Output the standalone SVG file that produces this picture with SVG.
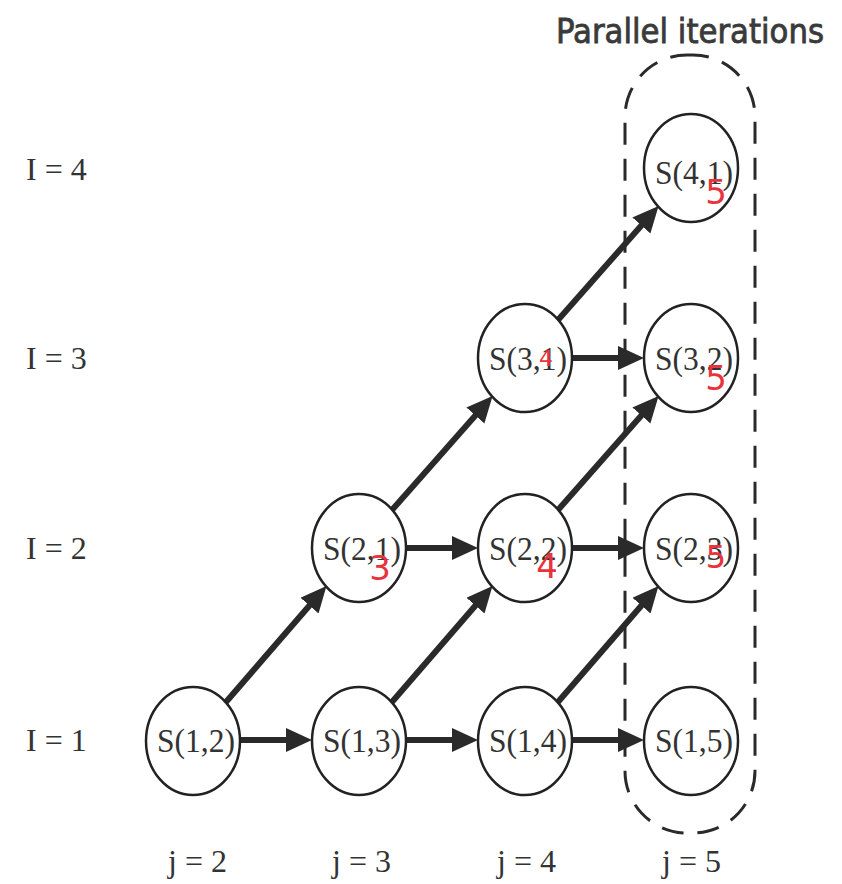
<svg xmlns="http://www.w3.org/2000/svg" width="842" height="884" viewBox="0 0 842 884">
<defs>
<style>
.node ellipse{fill:#fff;stroke:#222;stroke-width:2.5}
.lbl{font-family:"Liberation Serif","Times New Roman",serif;font-size:34px;fill:#333;text-anchor:middle}
.axis{font-family:"Liberation Serif","Times New Roman",serif;font-size:32px;fill:#333}
.fix{font-family:"DejaVu Sans","Liberation Sans",sans-serif;fill:#e8323c;text-anchor:middle}
.conn line{stroke:#2a2a2a;stroke-width:6;marker-end:url(#ah)}
</style>
<marker id="ah" markerUnits="userSpaceOnUse" markerWidth="28" markerHeight="26" refX="10" refY="12" orient="auto">
<path d="M0,0 L26,12 L0,24 z" fill="#2a2a2a"/>
</marker>
</defs>
<rect width="842" height="884" fill="#fff"/>
<text x="690" y="43" text-anchor="middle" font-family="DejaVu Sans Condensed,DejaVu Sans,sans-serif" font-size="34" fill="#3a3a3a" stroke="#3a3a3a" stroke-width="0.8" textLength="268" lengthAdjust="spacingAndGlyphs">Parallel iterations</text>
<rect id="parallel-group" x="625" y="55" width="130" height="778" rx="62" ry="62" fill="none" stroke="#2a2a2a" stroke-width="3" stroke-dasharray="22 14"/>
<g id="row-labels" class="axis">
<text x="26" y="180">I = 4</text>
<text x="26" y="369">I = 3</text>
<text x="26" y="559">I = 2</text>
<text x="26" y="751">I = 1</text>
</g>
<g id="col-labels" class="axis">
<text x="168" y="872">j = 2</text>
<text x="332" y="872">j = 3</text>
<text x="497" y="872">j = 4</text>
<text x="662" y="872">j = 5</text>
</g>
<g id="connectors" class="conn">
<line x1="240" y1="740" x2="296" y2="740"/>
<line x1="406" y1="740" x2="462" y2="740"/>
<line x1="572" y1="740" x2="628" y2="740"/>
<line x1="406" y1="548" x2="462" y2="548"/>
<line x1="572" y1="548" x2="628" y2="548"/>
<line x1="572" y1="358" x2="628" y2="358"/>
<line x1="226" y1="702" x2="316" y2="598"/>
<line x1="392" y1="702" x2="482" y2="598"/>
<line x1="558" y1="702" x2="648" y2="598"/>
<line x1="392" y1="510" x2="482" y2="408"/>
<line x1="558" y1="510" x2="648" y2="408"/>
<line x1="558" y1="320" x2="648" y2="218"/>
</g>
<g id="S12" class="node"><ellipse cx="193" cy="741" rx="47" ry="54"/><text class="lbl" x="196" y="752" textLength="78" lengthAdjust="spacingAndGlyphs">S(1,2)</text></g>
<g id="S13" class="node"><ellipse cx="359" cy="741" rx="47" ry="54"/><text class="lbl" x="362" y="752" textLength="78" lengthAdjust="spacingAndGlyphs">S(1,3)</text></g>
<g id="S14" class="node"><ellipse cx="525" cy="741" rx="47" ry="54"/><text class="lbl" x="528" y="752" textLength="78" lengthAdjust="spacingAndGlyphs">S(1,4)</text></g>
<g id="S15" class="node"><ellipse cx="691" cy="741" rx="47" ry="54"/><text class="lbl" x="694" y="752" textLength="78" lengthAdjust="spacingAndGlyphs">S(1,5)</text></g>
<g id="S21" class="node"><ellipse cx="359" cy="548" rx="47" ry="54"/><text class="lbl" x="362" y="560" textLength="78" lengthAdjust="spacingAndGlyphs">S(2,1)</text><text class="fix" x="380" y="580" font-size="34">3</text></g>
<g id="S22" class="node"><ellipse cx="525" cy="548" rx="47" ry="54"/><text class="lbl" x="528" y="560" textLength="78" lengthAdjust="spacingAndGlyphs">S(2,2)</text><text class="fix" x="547" y="578" font-size="34">4</text></g>
<g id="S23" class="node"><ellipse cx="691" cy="548" rx="47" ry="54"/><text class="lbl" x="694" y="560" textLength="78" lengthAdjust="spacingAndGlyphs">S(2,3)</text><text class="fix" x="716" y="568" font-size="32">5</text></g>
<g id="S31" class="node"><ellipse cx="525" cy="358" rx="47" ry="54"/><text class="lbl" x="528" y="370" textLength="78" lengthAdjust="spacingAndGlyphs">S(3,1)</text><text class="fix" x="546" y="366" font-size="22">4</text></g>
<g id="S32" class="node"><ellipse cx="691" cy="358" rx="47" ry="54"/><text class="lbl" x="694" y="370" textLength="78" lengthAdjust="spacingAndGlyphs">S(3,2)</text><text class="fix" x="716" y="390" font-size="34">5</text></g>
<g id="S41" class="node"><ellipse cx="691" cy="168" rx="47" ry="54"/><text class="lbl" x="694" y="184" textLength="78" lengthAdjust="spacingAndGlyphs">S(4,1)</text><text class="fix" x="716" y="204" font-size="34">5</text></g>
</svg>
